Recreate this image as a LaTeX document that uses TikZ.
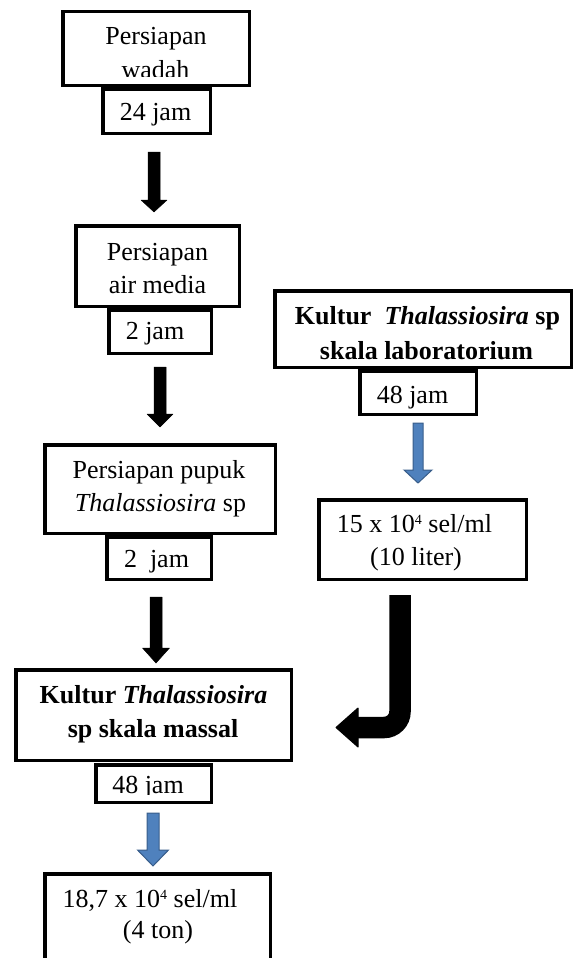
\documentclass[tikz,border=0pt]{standalone}
\usepackage{fontspec}
\setmainfont{Liberation Serif}
\definecolor{arrowblue}{HTML}{4F81BD}
\definecolor{arrowblueline}{HTML}{385D8A}
\newcommand{\varrow}[7]{%
  \filldraw[#7] ({#1-#5},#2) -- ({#1+#5},#2) -- ({#1+#5},#3) -- ({#1+#6},#3)
    -- (#1,#4) -- ({#1-#6},#3) -- ({#1-#5},#3) -- cycle;}
\newcommand{\supfour}{\raisebox{7.5pt}{\fontsize{14pt}{14pt}\selectfont 4}}
\begin{document}
\begin{tikzpicture}[x=1pt,y=-1pt,
  boxst/.style={draw=black, line width=3.5pt, fill=white, inner sep=0pt},
  txt/.style={anchor=base, inner sep=0pt, font=\fontsize{26pt}{33pt}\selectfont},
  blackarrow/.style={fill=black, draw=black, line width=0.5pt, line join=round},
  bluearrow/.style={fill=arrowblue, draw=arrowblueline, line width=1pt}]
\useasboundingbox (0,0) rectangle (575,958);
\clip (0,0) rectangle (575,958);

% left column boxes
\node[boxst, minimum width=186.5pt, minimum height=73.5pt] (b1) at (156,48.5) {};
\node[boxst, minimum width=107.5pt, minimum height=44.5pt] (b2) at (156.5,111) {};
\node[boxst, minimum width=163.5pt, minimum height=80.5pt] (b3) at (157.5,266) {};
\node[boxst, minimum width=102.5pt, minimum height=43.5pt] (b4) at (160,331.5) {};
\node[boxst, minimum width=230.5pt, minimum height=88.5pt] (b5) at (160,489) {};
\node[boxst, minimum width=104.5pt, minimum height=42.5pt] (b6) at (159,558) {};
\node[boxst, minimum width=275.5pt, minimum height=90.5pt] (b7) at (153.5,715) {};
\node[boxst, minimum width=115.5pt, minimum height=37.5pt] (b8) at (153.5,783.5) {};
\node[boxst, minimum width=225.5pt, minimum height=124.5pt] (b9) at (157.5,936) {};
% right column boxes
\node[boxst, minimum width=296.5pt, minimum height=76.5pt] (b10) at (423,329) {};
\node[boxst, minimum width=116.5pt, minimum height=43.5pt] (b11) at (418,392.5) {};
\node[boxst, minimum width=207.5pt, minimum height=79.5pt] (b12) at (422.5,539.5) {};

% texts
\node[txt] (t1a) at (156,45) {Persiapan};
\begin{scope}
\clip (61,10) rectangle (251,76);
\node[txt] (t1b) at (155.5,78) {wadah};
\end{scope}
\node[txt] (t2) at (155.5,120) {24 jam};
\node[txt] (t3a) at (157.5,260) {Persiapan};
\node[txt] (t3b) at (157.5,293) {air media};
\node[txt] (t4) at (155,339) {2 jam};
\node[txt] (t5a) at (159,478) {Persiapan pupuk};
\node[txt] (t5b) at (160.5,511) {\textit{Thalassiosira} sp};
\node[txt] (t6) at (156.5,567) {2~ jam};
\node[txt] (t7a) at (153.5,703) {\textbf{Kultur \textit{Thalassiosira}}};
\node[txt] (t7b) at (153,737) {\textbf{sp skala massal}};
\begin{scope}
\clip (94,763) rectangle (213,794);
\node[txt] (t8) at (148,793) {48 jam};
\end{scope}
\node[txt] (t9a) at (150,907) {18,7 x 10\supfour\ sel/ml};
\node[txt] (t9b) at (158,938) {(4 ton)};
\node[txt] (t10a) at (427.5,324) {\textbf{Kultur~ \textit{Thalassiosira} sp}};
\node[txt] (t10b) at (426.5,359) {\textbf{skala laboratorium}};
\node[txt] (t11) at (412.5,403) {48 jam};
\node[txt] (t12a) at (414.5,532) {15 x 10\supfour\ sel/ml};
\node[txt] (t12b) at (416,565) {(10 liter)};

% straight block arrows
\varrow{154}{152}{200}{212}{6}{13}{blackarrow}
\varrow{160}{367}{414}{427}{6}{13}{blackarrow}
\varrow{156}{597}{648}{663}{6}{13.5}{blackarrow}
\varrow{418}{423}{470}{483}{5}{14}{bluearrow}
\varrow{153}{813}{850}{866}{6}{15.5}{bluearrow}

% bent arrow from right column into mass culture
\coordinate (jtop) at (400,595);
\coordinate (jend) at (357,727.5);
\draw[line width=21.5pt, rounded corners=16pt] (jtop) |- (jend);
\filldraw[fill=black, draw=black, line width=1pt, line join=round]
  (358,708) -- (336,727.5) -- (358,747) -- cycle;
\end{tikzpicture}
\end{document}
